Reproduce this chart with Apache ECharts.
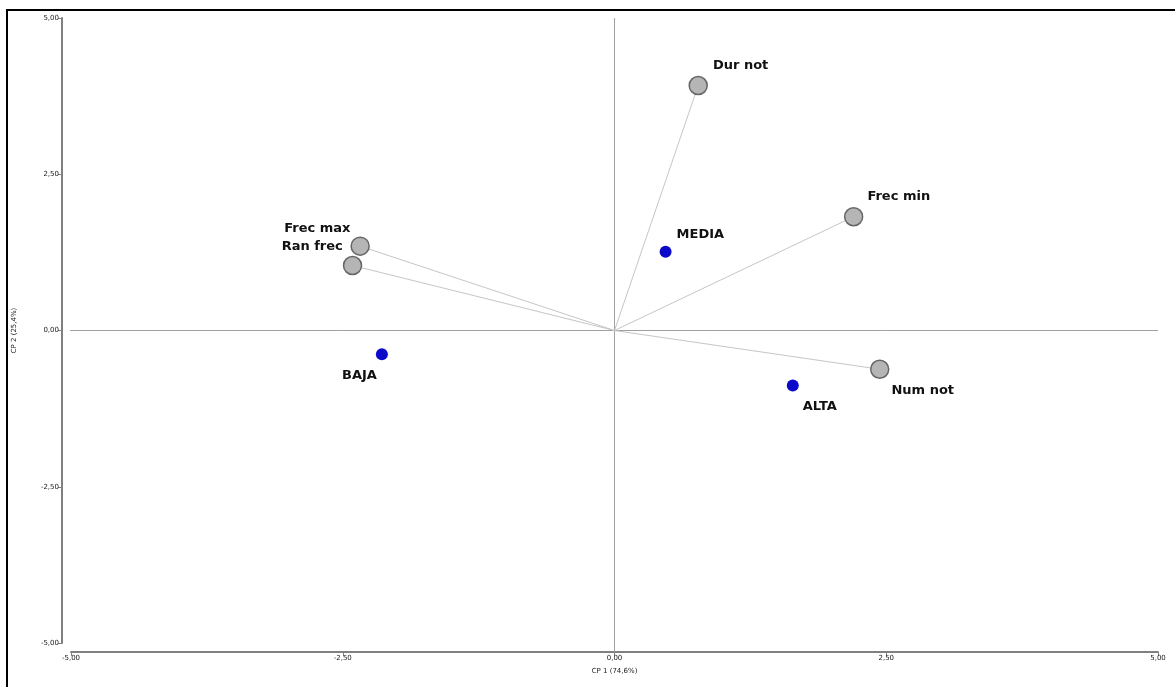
<!DOCTYPE html>
<html>
<head>
<meta charset="utf-8">
<script src="https://cdn.jsdelivr.net/npm/echarts@6/dist/echarts.min.js"></script>
<style>
  html, body { margin: 0; padding: 0; background: #ffffff; }
  #chart { width: 1175px; height: 687px; }
</style>
</head>
<body>
<div id="chart"></div>
<script>
// Variable loadings (arrows drawn from the origin)
const variableNames = ['Dur not', 'Frec min', 'Frec max', 'Ran frec', 'Num not'];
const variableX = [0.77, 2.20, -2.34, -2.41, 2.44];
const variableY = [3.92, 1.82, 1.35, 1.04, -0.62];

// Group centroids
const groupNames = ['MEDIA', 'BAJA', 'ALTA'];
const groupX = [0.47, -2.14, 1.64];
const groupY = [1.26, -0.38, -0.88];

// Axis ticks and titles
const axisMin = -5;
const axisMax = 5;
const axisStep = 2.5;
const xTitle = 'CP 1 (74,6%)';
const yTitle = 'CP 2 (25,4%)';

// Label placement per point
const labelPlacement = {
  'Dur not':  { position: 'right', offset: [0, -20] },
  'Frec min': { position: 'right', offset: [-1, -20] },
  'Frec max': { position: 'left',  offset: [5, -18] },
  'Ran frec': { position: 'left',  offset: [5, -19] },
  'Num not':  { position: 'right', offset: [-3, 21] },
  'MEDIA':    { position: 'right', offset: [0, -17] },
  'BAJA':     { position: 'left',  offset: [6, 21] },
  'ALTA':     { position: 'right', offset: [-1, 21] }
};

const labelFont = {
  fontFamily: 'DejaVu Sans',
  fontWeight: 'bold',
  fontSize: 13,
  color: '#111111'
};

function fmt(v) {
  return v.toFixed(2).replace('.', ',');
}

function pointData(names, xs, ys) {
  return names.map((n, i) => ({
    name: n,
    value: [xs[i], ys[i]],
    label: Object.assign({ show: true, formatter: '{b}', distance: 5 }, labelFont, labelPlacement[n])
  }));
}

const arrowSeries = variableNames.map((n, i) => ({
  type: 'line',
  name: n + ' vector',
  data: [[0, 0], [variableX[i], variableY[i]]],
  symbol: 'none',
  silent: true,
  lineStyle: { color: '#c6c6c6', width: 1 },
  z: 2
}));

const axisLabelStyle = {
  fontFamily: 'DejaVu Sans',
  fontSize: 7,
  color: '#202020',
  formatter: fmt
};

// The axes sit 9px outside the plot box; the zero lines reach over to them.
const axisOffset = 9;
const plotW = 1175 - 71 - 17;
const plotH = 687 - 18 - 44;
const xReach = axisMin - axisOffset * (axisMax - axisMin) / plotW;
const yReach = axisMin - axisOffset * (axisMax - axisMin) / plotH;

function zeroLine(name, pts) {
  return {
    type: 'line',
    name: name,
    data: pts,
    symbol: 'none',
    silent: true,
    clip: false,
    lineStyle: { color: '#a0a0a0', width: 1 },
    z: 1
  };
}

const chart = echarts.init(document.getElementById('chart'));
chart.setOption({
  animation: false,
  backgroundColor: '#ffffff',
  grid: { left: 71, right: 17, top: 18, bottom: 44 },
  graphic: [
    {
      type: 'polyline',
      shape: { points: [[7, 700], [7, 10], [1180, 10]] },
      style: { stroke: '#000000', lineWidth: 2, fill: null },
      silent: true
    }
  ],
  xAxis: {
    type: 'value',
    min: axisMin, max: axisMax, interval: axisStep,
    offset: axisOffset,
    name: xTitle,
    nameLocation: 'middle',
    nameGap: 16,
    nameTextStyle: { fontFamily: 'DejaVu Sans', fontSize: 7, color: '#202020' },
    axisLine: { show: true, onZero: false, lineStyle: { color: '#808080', width: 2 } },
    axisTick: { show: true, length: 4, lineStyle: { color: '#808080' } },
    axisLabel: Object.assign({ margin: 3 }, axisLabelStyle),
    splitLine: { show: false }
  },
  yAxis: {
    type: 'value',
    min: axisMin, max: axisMax, interval: axisStep,
    offset: axisOffset,
    name: yTitle,
    nameLocation: 'middle',
    nameGap: 44,
    nameRotate: 90,
    nameTextStyle: { fontFamily: 'DejaVu Sans', fontSize: 7, color: '#202020' },
    axisLine: { show: true, onZero: false, lineStyle: { color: '#808080', width: 2 } },
    axisTick: { show: true, length: 4, lineStyle: { color: '#808080' } },
    axisLabel: Object.assign({ margin: 3 }, axisLabelStyle),
    splitLine: { show: false }
  },
  series: [
    zeroLine('vertical zero', [[0, axisMax], [0, yReach]]),
    zeroLine('horizontal zero', [[xReach, 0], [axisMax, 0]]),
    ...arrowSeries,
    {
      type: 'scatter',
      name: 'variables',
      data: pointData(variableNames, variableX, variableY),
      symbol: 'circle',
      symbolSize: 18,
      itemStyle: { color: '#b5b5b5', borderColor: '#666666', borderWidth: 1.5, opacity: 1 },
      z: 5
    },
    {
      type: 'scatter',
      name: 'groups',
      data: pointData(groupNames, groupX, groupY),
      symbol: 'circle',
      symbolSize: 12,
      itemStyle: { color: '#0a0ac8', opacity: 1 },
      z: 6
    }
  ]
});
</script>
</body>
</html>
